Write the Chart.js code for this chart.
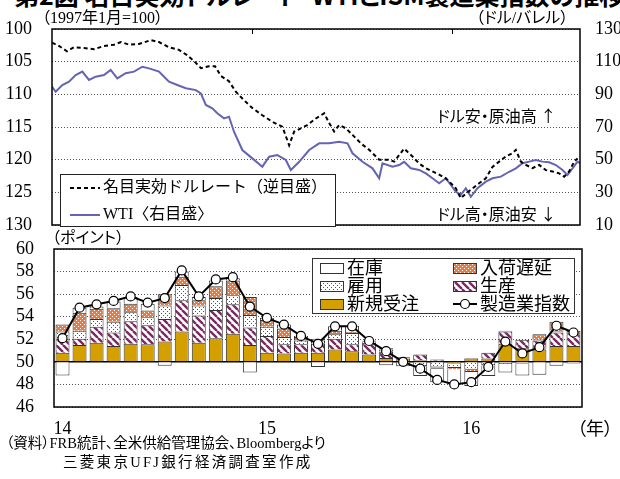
<!DOCTYPE html>
<html>
<head>
<meta charset="utf-8">
<script src="https://cdn.jsdelivr.net/npm/chart.js@4.4.1/dist/chart.umd.min.js"></script>
<style>
  html, body { margin: 0; padding: 0; background: #fff; }
  body { width: 620px; height: 479px; position: relative; overflow: hidden;
         font-family: 'Liberation Serif', 'Noto Sans CJK JP', serif; color: #000; }
  canvas { position: absolute; left: 0; }
  #topChart { top: 0; }
  #bottomChart { top: 240px; }
  .t { position: absolute; white-space: nowrap; line-height: 1; font-feature-settings: "palt"; }
  .g { font-family: 'Noto Sans CJK JP', sans-serif; }
</style>
</head>
<body>
<div class="t g" style="left:14px;top:-18px;font-size:25px;font-weight:bold;">第2図 名目実効ドルレート・WTIとISM製造業指数の推移</div>
<canvas id="topChart" width="620" height="240"></canvas>
<canvas id="bottomChart" width="620" height="239"></canvas>
<div class="t" style="left:42px;top:10px;font-size:16px;">（1997年1月=100）</div>
<div class="t" style="left:476px;top:10px;font-size:16px;">（ドル/バレル）</div>
<div class="t g" style="left:437px;top:107px;font-size:16px;">ドル安・原油高 ↑</div>
<div class="t g" style="left:437px;top:205px;font-size:16px;">ドル高・原油安 ↓</div>
<div class="t" style="left:52px;top:230px;font-size:16px;">（ポイント）</div>
<div class="t" style="left:577px;top:420px;font-size:18px;">（年）</div>
<div class="t" style="left:6px;top:436px;font-size:14.5px;">（資料）FRB統計、全米供給管理協会、Bloombergより</div>
<div class="t" style="left:63px;top:455px;font-size:14.5px;letter-spacing:2.3px;">三菱東京UFJ銀行経済調査室作成</div>

<script>
// ---- upper panel: nominal effective dollar rate (inverted) and WTI ----
// x = months since Jan 2014
const dollarMonths = [0.0, 0.42, 0.9, 1.32, 1.92, 2.52, 3.12, 3.72, 4.14, 4.62, 5.22, 5.94, 6.42, 7.02, 7.62, 8.1, 8.52, 8.94, 9.42, 9.78,
  10.14, 10.62, 11.03, 11.52, 12.02, 12.62, 13.22, 13.82, 14.23, 14.53, 14.93, 15.32, 15.83, 16.33, 16.63, 16.93, 17.23, 17.63, 18.03, 18.53,
  19.03, 19.63, 20.23, 20.53, 20.83, 21.13, 21.33, 21.63, 22.03, 22.43, 22.83, 23.23, 23.63, 23.93, 24.23, 24.53, 24.83, 25.23, 25.63, 26.03,
  26.43, 26.83, 27.23, 27.63, 27.83, 28.13, 28.43, 28.83, 29.23, 29.63, 30.03, 30.43, 30.73, 31.03, 31.33, 31.53];
const dollarIndex = [102.1, 102.6, 103.4, 102.8, 102.9, 103.1, 102.6, 102.4, 102.0, 102.4, 102.3, 101.7, 102.0, 102.8, 103.2, 104.0, 104.9, 106.0, 105.7, 105.7,
  107.2, 108.0, 109.6, 110.9, 112.1, 113.2, 114.2, 114.95, 117.8, 115.7, 115.2, 114.7, 113.7, 112.9, 114.4, 115.7, 114.7, 115.2, 116.2, 117.5,
  118.5, 120.0, 120.0, 120.3, 119.3, 118.3, 118.8, 119.5, 120.6, 121.3, 121.8, 122.3, 122.85, 123.6, 124.4, 125.9, 125.2, 124.4, 123.6, 122.85,
  121.1, 120.3, 119.5, 119.0, 118.5, 120.3, 120.8, 121.3, 120.8, 121.6, 121.8, 122.1, 122.6, 121.8, 120.3, 119.8];

const wtiMonths = [0.0, 0.22, 0.62, 1.02, 1.42, 1.82, 2.22, 2.62, 3.12, 3.52, 3.92, 4.42, 4.92, 5.42, 5.82, 6.42, 6.62, 7.02, 7.52, 8.03,
  8.63, 8.93, 9.23, 9.62, 9.92, 10.32, 10.62, 10.92, 11.42, 12.02, 12.62, 13.03, 13.52, 14.03, 14.33, 14.83, 15.43, 16.03, 16.63, 17.23,
  17.73, 18.03, 18.63, 19.23, 19.63, 19.83, 20.43, 20.83, 21.13, 21.53, 22.03, 22.43, 22.83, 23.23, 23.63, 23.93, 24.23, 24.53, 24.83, 25.13,
  25.53, 26.03, 26.43, 26.93, 27.43, 27.83, 28.23, 28.63, 29.03, 29.43, 29.83, 30.23, 30.63, 30.93, 31.23, 31.53, 31.68];
const wtiPrice = [94.7, 91.6, 95.7, 97.7, 101.8, 103.9, 98.8, 100.8, 101.8, 104.9, 99.8, 102.9, 103.9, 106.9, 105.9, 103.9, 101.8, 97.7, 95.7, 93.7,
  92.6, 90.6, 83.5, 81.4, 78.4, 75.3, 76.3, 67.1, 55.9, 50.8, 45.7, 51.8, 52.8, 49.8, 43.7, 48.7, 55.9, 60.0, 60.0, 61.0,
  60.0, 53.9, 48.7, 44.7, 38.6, 47.8, 45.7, 46.7, 48.7, 44.7, 43.7, 41.6, 38.6, 35.5, 38.6, 34.5, 30.4, 28.4, 32.5, 27.3,
  32.5, 36.5, 38.6, 39.6, 42.6, 44.7, 47.8, 48.8, 49.8, 48.8, 48.4, 46.7, 43.7, 40.6, 44.7, 48.8, 47.8];

const yearTicks = [12, 24];

// ---- lower panel: ISM manufacturing index and contributions (points vs 50) ----
const months = ['2014-01', '2014-02', '2014-03', '2014-04', '2014-05', '2014-06', '2014-07', '2014-08', '2014-09', '2014-10', '2014-11', '2014-12',
  '2015-01', '2015-02', '2015-03', '2015-04', '2015-05', '2015-06', '2015-07', '2015-08', '2015-09', '2015-10', '2015-11', '2015-12',
  '2016-01', '2016-02', '2016-03', '2016-04', '2016-05', '2016-06', '2016-07'];
const newOrders   = [0.8, 1.5, 1.7, 1.4, 1.6, 1.55, 1.8, 2.7, 1.7, 2.1, 2.5, 1.5, 0.8, 0.75, 0.8, 0.8, 1.1, 0.95, 0.65, 0.35, 0.3, 0.15, 0.1, -0.15, 0.3, 0.3, 1.6, 1.2, 1.1, 1.4, 1.4];
const production  = [1.2, 0.55, 1.4, 1.2, 2.0, 1.7, 2.0, 2.75, 2.4, 2.5, 2.6, 1.55, 1.5, 0.8, 0.75, 0.8, 0.95, 0.6, 1.05, 0.55, 0.1, 0.5, 0.1, -0.05, 0.05, 0.5, 1.1, 0.75, 0.8, 1.2, 1.05];
const employment  = [0.7, 0.7, 0.7, 0.95, 0.8, 0.7, 1.2, 1.35, 0.9, 1.05, 0.8, 1.1, 0.8, 0.65, 0.35, 0.3, 0.4, 1.0, 0.1, 0.2, -0.1, -0.4, -0.5, -0.35, -0.7, -0.3, -0.2, -0.15, 0.05, 0.1, 0.0];
const deliveries  = [0.6, 1.6, 0.9, 1.2, 0.75, 0.6, 1.0, 0.75, 0.45, 1.05, 1.3, 1.6, 0.6, 0.75, 0.3, 0.15, 0.3, 0.1, 0.05, 0.1, 0.0, -0.05, -0.1, -0.1, -0.2, 0.0, 0.05, -0.05, 0.5, 0.85, 0.3];
const inventories = [-1.2, 0.45, 0.2, 0.6, 0.6, 0.6, -0.35, 0.45, 0.3, 0.5, 0.2, -0.95, 0.2, 0.35, 0.1, -0.45, 0.4, 0.55, 0.05, -0.3, -0.3, -0.8, -1.2, -1.35, -1.25, -0.95, -0.75, -1.0, -1.15, -0.35, -0.15];
const ismIndex    = [52.1, 54.8, 55.1, 55.4, 55.8, 55.25, 55.65, 58.1, 55.8, 57.3, 57.5, 54.9, 53.9, 53.3, 52.3, 51.6, 53.15, 53.15, 51.85, 50.95,
  50.0, 49.4, 48.4, 48.0, 48.2, 49.55, 51.8, 50.75, 51.3, 53.2, 52.6];

const FONT = "'Liberation Serif', 'Noto Sans CJK JP', serif";

function makePattern(size, draw) {
  const c = document.createElement('canvas');
  c.width = size; c.height = size;
  const g = c.getContext('2d');
  draw(g, size);
  return g.createPattern(c, 'repeat');
}

const stripes = makePattern(7, (g, s) => {
  g.fillStyle = '#fff'; g.fillRect(0, 0, s, s);
  g.strokeStyle = '#7a2a62'; g.lineWidth = 2.4;
  g.beginPath();
  for (let k = -1; k <= 1; k++) { g.moveTo(k * s, 0); g.lineTo(k * s + s, s); }
  g.stroke();
});
const dots = makePattern(4, (g, s) => {
  g.fillStyle = '#fff'; g.fillRect(0, 0, s, s);
  g.fillStyle = '#555';
  g.fillRect(1, 1, 1, 1); g.fillRect(3, 3, 1, 1);
});
const checks = makePattern(4, (g, s) => {
  g.fillStyle = '#ec7a3c'; g.fillRect(0, 0, s, s);
  g.fillStyle = '#fff';
  g.fillRect(0, 0, 1, 1); g.fillRect(2, 2, 1, 1);
});

const framePlugin = {
  id: 'frame',
  afterDatasetsDraw(chart) {
    const { ctx, chartArea: a } = chart;
    ctx.save();
    ctx.strokeStyle = '#000';
    ctx.lineWidth = 1.5;
    ctx.strokeRect(a.left, a.top, a.right - a.left, a.bottom - a.top);
    ctx.restore();
  }
};

const yearTickPlugin = {
  id: 'yearTicks',
  afterDatasetsDraw(chart) {
    const { ctx, chartArea, scales } = chart;
    ctx.save();
    ctx.strokeStyle = '#000';
    ctx.lineWidth = 1;
    yearTicks.forEach(v => {
      const x = Math.round(scales.x.getPixelForValue(v)) + 0.5;
      ctx.beginPath();
      ctx.moveTo(x, chartArea.top);
      ctx.lineTo(x, chartArea.top + 5);
      ctx.stroke();
    });
    ctx.restore();
  }
};

const topLegendPlugin = {
  id: 'topLegend',
  afterDraw(chart) {
    const ctx = chart.ctx;
    ctx.save();
    ctx.fillStyle = '#fff';
    ctx.fillRect(60, 174, 275, 53);
    ctx.strokeStyle = '#222';
    ctx.lineWidth = 1;
    ctx.strokeRect(60.5, 174.5, 275, 52);
    const rows = [188, 215];
    chart.data.datasets.forEach((d, i) => {
      const y = rows[i];
      ctx.strokeStyle = d.borderColor;
      ctx.lineWidth = 2;
      ctx.setLineDash(d.borderDash || []);
      ctx.beginPath(); ctx.moveTo(70, y); ctx.lineTo(100, y); ctx.stroke();
      ctx.setLineDash([]);
      ctx.fillStyle = '#000';
      ctx.font = '16px ' + FONT;
      ctx.textBaseline = 'middle';
      ctx.fillText(d.label, 103, y);
    });
    ctx.restore();
  }
};

const baselinePlugin = {
  id: 'baseline',
  beforeDatasetsDraw(chart) {
    const { ctx, chartArea: a, scales } = chart;
    const y = scales.y.getPixelForValue(0);
    ctx.save();
    ctx.strokeStyle = '#000';
    ctx.lineWidth = 1.5;
    ctx.beginPath(); ctx.moveTo(a.left, y); ctx.lineTo(a.right, y); ctx.stroke();
    ctx.restore();
  }
};

const barLegendPlugin = {
  id: 'barLegend',
  afterDraw(chart) {
    const ctx = chart.ctx;
    const find = l => chart.data.datasets.find(d => d.label === l);
    ctx.save();
    ctx.fillStyle = '#fff';
    ctx.fillRect(312, 18, 262, 55);
    ctx.strokeStyle = '#333';
    ctx.lineWidth = 1;
    ctx.strokeRect(312.5, 18.5, 262, 55);
    const cells = [['在庫', 320, 28], ['入荷遅延', 453, 28], ['雇用', 320, 46], ['生産', 453, 46], ['新規受注', 320, 64], ['製造業指数', 453, 64]];
    cells.forEach(([label, x, y]) => {
      const d = find(label);
      if (d.type === 'line') {
        ctx.strokeStyle = '#000'; ctx.lineWidth = 2;
        ctx.beginPath(); ctx.moveTo(x, y); ctx.lineTo(x + 24, y); ctx.stroke();
        ctx.fillStyle = '#fff'; ctx.lineWidth = 1.2;
        ctx.beginPath(); ctx.arc(x + 12, y, 4.5, 0, Math.PI * 2); ctx.fill(); ctx.stroke();
      } else {
        ctx.fillStyle = d.backgroundColor;
        ctx.fillRect(x, y - 5, 23, 10);
        ctx.strokeStyle = '#333'; ctx.lineWidth = 1;
        ctx.strokeRect(x + 0.5, y - 4.5, 23, 10);
      }
      ctx.fillStyle = '#000';
      ctx.font = '18px ' + FONT;
      ctx.textBaseline = 'middle';
      ctx.fillText(label, x + 27, y + 1);
    });
    ctx.restore();
  }
};

// tick labels are pushed away from the plot with an invisible tick, not with ticks.padding
// (ticks.padding on a vertical axis also pads its top and bottom)
const tickFont = { family: FONT, size: 18, lineHeight: 1 };

new Chart(document.getElementById('topChart'), {
  type: 'line',
  data: {
    datasets: [
      {
        label: '名目実効ドルレート（逆目盛）',
        data: dollarMonths.map((m, i) => ({ x: m, y: dollarIndex[i] })),
        yAxisID: 'yL',
        borderColor: '#000',
        borderWidth: 2,
        borderDash: [4, 3],
        pointRadius: 0,
        tension: 0
      },
      {
        label: 'WTI〈右目盛〉',
        data: wtiMonths.map((m, i) => ({ x: m, y: wtiPrice[i] })),
        yAxisID: 'yR',
        borderColor: '#6464b4',
        borderWidth: 2,
        pointRadius: 0,
        tension: 0
      }
    ]
  },
  options: {
    responsive: false,
    animation: false,
    layout: { padding: { top: 29, bottom: 15, left: 0, right: 0 } },
    plugins: { legend: { display: false }, tooltip: { enabled: false } },
    scales: {
      x: { type: 'linear', min: 0, max: 31.68, display: false },
      yL: {
        position: 'left', reverse: true, min: 100, max: 130,
        ticks: { stepSize: 5, padding: 0, autoSkip: false, font: tickFont, color: '#000' },
        grid: { color: '#555', lineWidth: 1, drawTicks: true, tickLength: 20, tickWidth: 0 },
        border: { display: false, dash: [1, 2] },
        afterFit(s) { s.width = 52; }
      },
      yR: {
        position: 'right', min: 10, max: 130,
        ticks: { stepSize: 20, padding: 0, autoSkip: false, font: tickFont, color: '#000' },
        grid: { drawOnChartArea: false, drawTicks: true, tickLength: 15, tickWidth: 0 },
        border: { display: false },
        afterFit(s) { s.width = 40; }
      }
    }
  },
  plugins: [framePlugin, yearTickPlugin, topLegendPlugin]
});

new Chart(document.getElementById('bottomChart'), {
  data: {
    labels: months,
    datasets: [
      {
        type: 'line', label: '製造業指数',
        data: ismIndex.map(v => v - 50),
        borderColor: '#000', borderWidth: 2,
        pointRadius: 4.5, pointBackgroundColor: '#fff', pointBorderColor: '#000', pointBorderWidth: 1.2,
        order: 0
      },
      { type: 'bar', label: '新規受注', data: newOrders, backgroundColor: '#d4a000', borderColor: '#333', borderWidth: 1, order: 1 },
      { type: 'bar', label: '生産', data: production, backgroundColor: stripes, borderColor: '#333', borderWidth: 1, order: 1 },
      { type: 'bar', label: '雇用', data: employment, backgroundColor: dots, borderColor: '#333', borderWidth: 1, order: 1 },
      { type: 'bar', label: '入荷遅延', data: deliveries, backgroundColor: checks, borderColor: '#333', borderWidth: 1, order: 1 },
      { type: 'bar', label: '在庫', data: inventories, backgroundColor: '#fff', borderColor: '#333', borderWidth: 1, order: 1 }
    ]
  },
  options: {
    responsive: false,
    animation: false,
    datasets: { bar: { barPercentage: 0.82, categoryPercentage: 1 } },
    layout: { padding: { top: 9, bottom: 0, left: 0, right: 38 } },
    plugins: { legend: { display: false }, tooltip: { enabled: false } },
    scales: {
      x: {
        stacked: true,
        grid: { display: false, drawTicks: false },
        border: { display: false },
        ticks: {
          autoSkip: false, maxRotation: 0, padding: 13, font: tickFont, color: '#000',
          callback(v, i) { return months[i].endsWith('-01') ? months[i].slice(2, 4) : ''; }
        },
        afterFit(s) { s.height = 72; }
      },
      y: {
        stacked: true, min: -4, max: 10,
        ticks: { stepSize: 2, padding: 0, autoSkip: false, font: tickFont, color: '#000', callback: v => v + 50 },
        grid: { color: '#555', lineWidth: 1, drawTicks: true, tickLength: 20, tickWidth: 0 },
        border: { display: false, dash: [1, 2] },
        afterFit(s) { s.width = 54; }
      }
    }
  },
  plugins: [baselinePlugin, framePlugin, barLegendPlugin]
});
</script>
</body>
</html>
